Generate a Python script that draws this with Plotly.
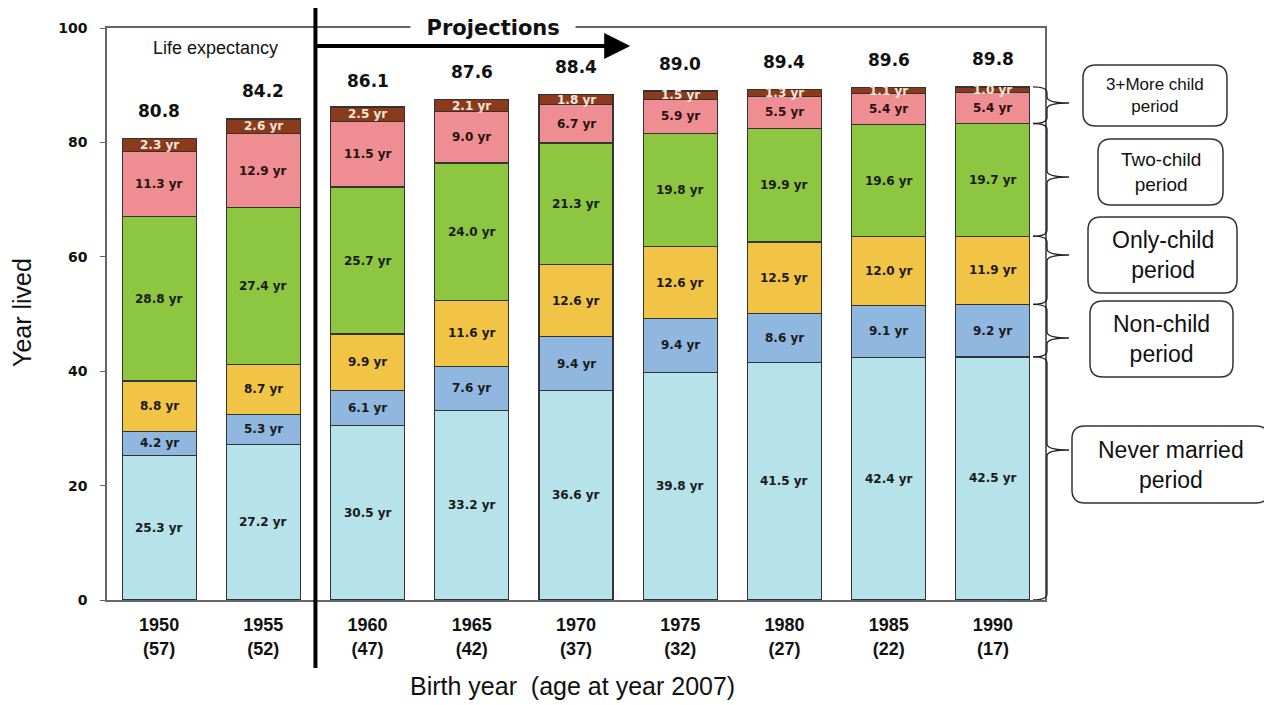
import plotly.graph_objects as go

# ---------------- data ----------------
years = ["1950", "1955", "1960", "1965", "1970", "1975", "1980", "1985", "1990"]
ages = ["57", "52", "47", "42", "37", "32", "27", "22", "17"]
life_expectancy = [80.8, 84.2, 86.1, 87.6, 88.4, 89.0, 89.4, 89.6, 89.8]

never_married = [25.3, 27.2, 30.5, 33.2, 36.6, 39.8, 41.5, 42.4, 42.5]
non_child = [4.2, 5.3, 6.1, 7.6, 9.4, 9.4, 8.6, 9.1, 9.2]
only_child = [8.8, 8.7, 9.9, 11.6, 12.6, 12.6, 12.5, 12.0, 11.9]
two_child = [28.8, 27.4, 25.7, 24.0, 21.3, 19.8, 19.9, 19.6, 19.7]
three_child = [11.3, 12.9, 11.5, 9.0, 6.7, 5.9, 5.5, 5.4, 5.4]
three_child_late = [2.3, 2.6, 2.5, 2.1, 1.8, 1.5, 1.3, 1.1, 1.0]

series = [
    ("Never married period", never_married, "#b6e2e9", "#1a1a1a"),
    ("Non-child period", non_child, "#8fb7df", "#1a1a1a"),
    ("Only-child period", only_child, "#f2c445", "#1a1a1a"),
    ("Two-child period", two_child, "#8dc640", "#1a1a1a"),
    ("3+More child period", three_child, "#ee8e93", "#2a1010"),
    ("3+More child period (late)", three_child_late, "#8b3b1b", "#f5e6da"),
]

box_labels = ["3+More child<br>period", "Two-child<br>period", "Only-child<br>period",
              "Non-child<br>period", "Never married<br>period"]

# ---------------- layout geometry (reference pixels; page body adds 8px offset) ----------------
W, H = 1272, 705
OFF = 8
L, R, T, B = 107 - OFF, 1045 - OFF, 28 - OFF, 600 - OFF


def pxx(x):
    return (x - OFF - L) / (R - L)


def pxy(y):
    return (B - (y - OFF)) / (B - T)


def ydata(y):
    return pxy(y) * 100.0


xs = list(range(len(years)))
fig = go.Figure()

for name, vals, color, _ in series:
    fig.add_trace(go.Bar(
        x=xs, y=vals, name=name, width=0.71,
        marker=dict(color=color, line=dict(color="#333333", width=1.2)),
        showlegend=False,
        hovertemplate="%{y:.1f} yr<extra>" + name + "</extra>",
    ))

annotations = []
# segment labels
cum = [0.0] * len(years)
for name, vals, color, tcol in series:
    for i, v in enumerate(vals):
        annotations.append(dict(
            x=xs[i], y=cum[i] + v / 2.0, xref="x", yref="y",
            xanchor="center", yanchor="middle",
            text=f"{v:.1f} yr", showarrow=False,
            font=dict(family="DejaVu Sans", size=12, color=tcol, weight="bold"),
        ))
        cum[i] += v

# life expectancy labels
for i, v in enumerate(life_expectancy):
    annotations.append(dict(
        x=xs[i], y=v, xref="x", yref="y", yshift=27,
        xanchor="center", yanchor="middle",
        text=f"{v:.1f}", showarrow=False,
        font=dict(family="DejaVu Sans", size=17, color="#111", weight="bold"),
    ))


def ptext(x, y, text, size, bold=False, family="Liberation Sans", **kw):
    d = dict(x=pxx(x), y=pxy(y), xref="paper", yref="paper",
             xanchor="center", yanchor="middle", text=text, showarrow=False,
             font=dict(family=family, size=size, color="#111",
                       weight="bold" if bold else "normal"))
    d.update(kw)
    return d


annotations.append(ptext(215, 48, "Life expectancy", 18))
annotations.append(ptext(493, 28, "  Projections  ", 21, bold=True, family="DejaVu Sans",
                         bgcolor="white"))

# projection arrow
arrow_y = ydata(46)
annotations.append(dict(
    x=4.52, y=arrow_y, ax=1.5, ay=arrow_y, xref="x", yref="y", axref="x", ayref="y",
    text="", showarrow=True, arrowhead=2, arrowsize=1.3, arrowwidth=4,
    arrowcolor="black", standoff=0, startstandoff=0,
))

# axis titles
annotations.append(ptext(22, 313, "Year lived", 25, textangle=-90))
annotations.append(ptext(572, 686, "Birth year  (age at year 2007)", 25))

# ---------------- shapes ----------------
shapes = []
# projection divider
shapes.append(dict(type="line", xref="x", yref="paper", x0=1.5, x1=1.5,
                   y0=pxy(668), y1=pxy(5), line=dict(color="black", width=4)))


def rbox(x0, y0, x1, y1, r=13):
    def P(x, y):
        return f"{pxx(x):.5f},{pxy(y):.5f}"
    return ("M" + P(x0 + r, y0) + " L" + P(x1 - r, y0) + " Q" + P(x1, y0) + " " + P(x1, y0 + r) +
            " L" + P(x1, y1 - r) + " Q" + P(x1, y1) + " " + P(x1 - r, y1) +
            " L" + P(x0 + r, y1) + " Q" + P(x0, y1) + " " + P(x0, y1 - r) +
            " L" + P(x0, y0 + r) + " Q" + P(x0, y0) + " " + P(x0 + r, y0) + " Z")


boxes = [
    (1083, 65, 1227, 126, 17),
    (1098, 139, 1223, 205, 19),
    (1088, 217, 1237, 293, 23),
    (1090, 301, 1233, 377, 23),
    (1072, 426, 1269, 503, 23),
]
for (bx0, by0, bx1, by1, fs), lab in zip(boxes, box_labels):
    shapes.append(dict(type="path", xref="paper", yref="paper", path=rbox(bx0, by0, bx1, by1),
                       line=dict(color="#333333", width=1.5), fillcolor="white"))
    annotations.append(ptext((bx0 + bx1) / 2, (by0 + by1) / 2, lab, fs))

# braces along the last bar
last = len(years) - 1
bounds = [0.0]
for _, vals, _, _ in series:
    bounds.append(bounds[-1] + vals[last])
groups = [(bounds[0], bounds[1]), (bounds[1], bounds[2]), (bounds[2], bounds[3]),
          (bounds[3], bounds[4]), (bounds[4], bounds[6])]
tips_px = [450, 338, 255, 177, 103]


def brace(lo, hi, tip):
    X0, X1, XT = pxx(1033), pxx(1047), pxx(1069)
    r = 6 / (B - T) * 100.0
    return (f"M{X0},{hi} Q{X1},{hi} {X1},{hi - r} L{X1},{tip + r} "
            f"Q{X1},{tip} {XT},{tip} Q{X1},{tip} {X1},{tip - r} "
            f"L{X1},{lo + r} Q{X1},{lo} {X0},{lo}")


for (lo, hi), tp in zip(groups, tips_px):
    shapes.append(dict(type="path", xref="paper", yref="y", path=brace(lo, hi, ydata(tp)),
                       line=dict(color="#222222", width=1.3)))

fig.update_layout(
    width=W, height=H,
    margin=dict(l=L, r=W - R, t=T, b=H - B, autoexpand=False),
    paper_bgcolor="white", plot_bgcolor="white",
    barmode="stack", bargap=0.29,
    annotations=annotations, shapes=shapes,
    xaxis=dict(range=[-0.5, 8.5], tickvals=xs,
               ticktext=[f"{y}<br>({a})" for y, a in zip(years, ages)],
               showline=True, mirror=True, linecolor="#666666", linewidth=1.5,
               ticks="", showgrid=False, zeroline=False, ticklabelstandoff=8,
               tickfont=dict(family="Liberation Sans", size=18,
                             color="#111", weight="bold")),
    yaxis=dict(range=[0, 100], tickvals=[0, 20, 40, 60, 80, 100],
               showline=True, mirror=True, linecolor="#666666", linewidth=1.5,
               ticks="outside", ticklen=5, tickcolor="#666666",
               showgrid=False, zeroline=False, ticklabelstandoff=10,
               tickfont=dict(family="DejaVu Sans", size=14, color="#111", weight="bold")),
)

fig.write_html("out.html")
